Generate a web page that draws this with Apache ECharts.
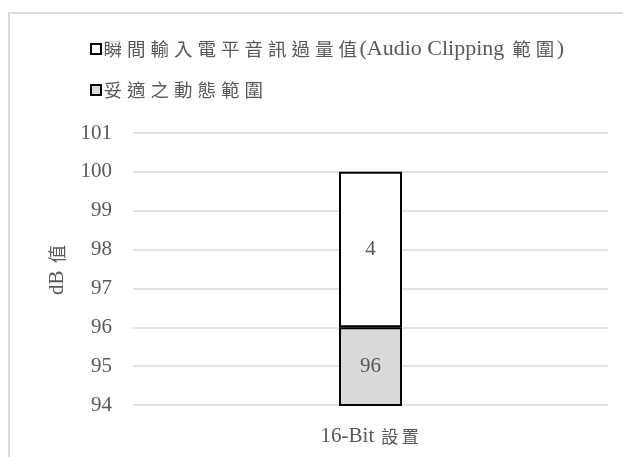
<!DOCTYPE html>
<html>
<head>
<meta charset="utf-8">
<script src="https://cdn.jsdelivr.net/npm/echarts@6/dist/echarts.min.js"></script>
<style>
  html, body { margin: 0; padding: 0; background: #ffffff; }
  #chart { width: 623px; height: 457px; }
</style>
</head>
<body>
<div id="chart"></div>
<script>
// Category and series values
const categories = ['16-Bit 設置'];
const safeRange = [96];      // 妥適之動態範圍
const clipRange = [4];       // 瞬間輸入電平音訊過量值
const seriesNames = ['瞬間輸入電平音訊過量值(Audio Clipping 範圍)', '妥適之動態範圍'];
const yMin = 94, yMax = 101, yStep = 1;
const axisTitle = 'dB 值';

const LATIN = '"Liberation Serif", serif';
const CJK = '"Noto Sans CJK TC", sans-serif';
const TEXT = '#595959';

// Split a label into rich-text runs: CJK characters get their own padded
// box (wide Ming-style spacing), Latin runs stay in the serif face.
function richRuns(str) {
  let out = '', run = '';
  for (const ch of str) {
    if (/[\u3400-\u9fff]/.test(ch)) {
      if (run) { out += '{l|' + run + '}'; run = ''; }
      out += '{c|' + ch + '}';
    } else {
      run += ch;
    }
  }
  if (run) out += '{l|' + run + '}';
  return out;
}

function richStyles(latinSize, cjkSize, cjkPad, lineHeight) {
  return {
    l: { fontFamily: LATIN, fontSize: latinSize, color: TEXT, lineHeight: lineHeight },
    c: { fontFamily: CJK, fontSize: cjkSize, color: TEXT, lineHeight: lineHeight, padding: [0, cjkPad, 0, cjkPad] }
  };
}

const chart = echarts.init(document.getElementById('chart'), null, { renderer: 'canvas' });

chart.setOption({
  backgroundColor: '#ffffff',
  animation: false,
  graphic: [{
    type: 'rect',
    shape: { x: 9, y: 13, width: 700, height: 500 },
    style: { fill: 'none', stroke: '#d9d9d9', lineWidth: 2 },
    silent: true
  }],
  legend: {
    orient: 'vertical',
    left: 85,
    top: 32,
    itemWidth: 10,
    itemHeight: 10,
    itemGap: 17,
    icon: 'rect',
    data: [seriesNames[0], seriesNames[1]],
    formatter: name => richRuns(name),
    textStyle: {
      fontFamily: LATIN, fontSize: 22, color: TEXT, lineHeight: 24,
      padding: [0, 0, 0, -5],
      rich: richStyles(22, 18.5, 2.5, 24)
    }
  },
  grid: { left: 133, right: 15, top: 133, bottom: 52, containLabel: false },
  xAxis: {
    type: 'category',
    data: categories,
    axisLine: { show: false },
    axisTick: { show: false },
    axisLabel: {
      margin: 19,
      formatter: v => richRuns(v),
      rich: richStyles(21, 17.5, 1.5, 24)
    }
  },
  yAxis: {
    type: 'value',
    min: yMin,
    max: yMax,
    interval: yStep,
    name: richRuns(axisTitle),
    nameLocation: 'middle',
    nameGap: 64,
    nameRotate: 90,
    nameTextStyle: { fontFamily: LATIN, fontSize: 21, color: TEXT, rich: richStyles(21, 18, 2, 24) },
    axisLine: { show: false },
    axisTick: { show: false },
    axisLabel: { fontFamily: LATIN, fontSize: 21, color: TEXT, margin: 21 },
    splitLine: { lineStyle: { color: '#d9d9d9', width: 1.5 } }
  },
  series: [
    {
      name: seriesNames[1],
      type: 'bar',
      stack: 'db',
      barWidth: 63,
      clip: true,
      data: safeRange,
      itemStyle: { color: '#d9d9d9', borderColor: '#000000', borderWidth: 2 },
      label: { show: true, position: 'inside', fontFamily: LATIN, fontSize: 21, color: TEXT }
    },
    {
      name: seriesNames[0],
      type: 'bar',
      stack: 'db',
      barWidth: 63,
      clip: true,
      data: clipRange,
      itemStyle: { color: '#ffffff', borderColor: '#000000', borderWidth: 2 },
      label: { show: true, position: 'inside', fontFamily: LATIN, fontSize: 21, color: TEXT }
    }
  ]
});
</script>
</body>
</html>
